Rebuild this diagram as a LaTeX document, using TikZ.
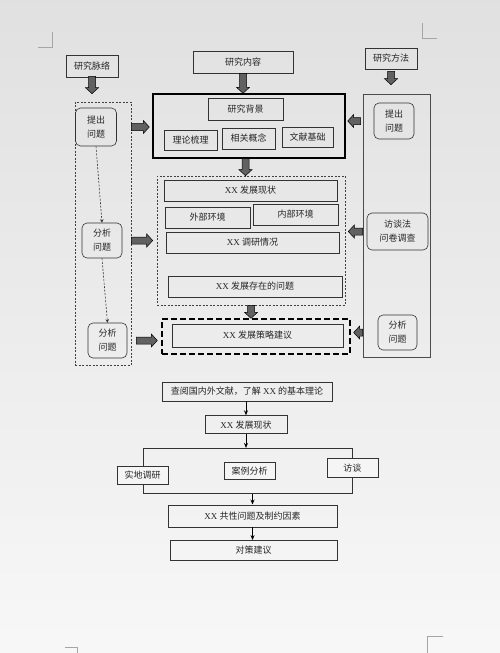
\documentclass[tikz,border=0pt]{standalone}
\usepackage{fontspec}
\setmainfont{Liberation Serif}
\newfontfamily\cjk{Noto Sans CJK SC}
\usetikzlibrary{positioning,calc,arrows.meta}
\newcommand\XXtag{{\rmfamily XX}}
\newcommand\bodyw{3.5pt}
\newcommand\headw{6.5pt}
\newcommand\headl{6pt}

\tikzset{
  wh/.style 2 args={minimum width=#1, minimum height=#2},
  plain/.style={draw=black!80, line width=0.6pt},
  qbox/.style={plain, rounded corners=5pt, align=center,
    font=\cjk\fontsize{9}{14}\selectfont},
  fbox/.style={plain, fill=black!4},
  dashbox/.style={draw=black!75, line width=0.6pt, dash pattern=on 2pt off 1.5pt},
  thickdash/.style={draw=black, line width=1.3pt, dash pattern=on 6pt off 3pt},
  pagecorner/.style={draw=black!35, line width=0.5pt},
  thinarrow/.style={draw=black, line width=0.7pt, -{Stealth[length=5pt, width=4pt]}},
  dasharrow/.style={draw=black!80, line width=0.6pt, dash pattern=on 2pt off 1.5pt,
    -{Stealth[length=3.5pt, width=3.5pt]}},
  fatdown/.style={draw=black, fill=black!62, line width=0.5pt,
    to path={let \p1=(\tikztostart), \p2=(\tikztotarget) in
      (\x1-\bodyw,\y1) -- (\x1+\bodyw,\y1) -- (\x1+\bodyw,\y2+\headl)
      -- (\x1+\headw,\y2+\headl) -- (\x1,\y2) -- (\x1-\headw,\y2+\headl)
      -- (\x1-\bodyw,\y2+\headl) -- cycle}},
  fatright/.style={draw=black, fill=black!62, line width=0.5pt,
    to path={let \p1=(\tikztostart), \p2=(\tikztotarget) in
      (\x1,\y1-\bodyw) -- (\x2-\headl,\y1-\bodyw) -- (\x2-\headl,\y1-\headw)
      -- (\x2,\y1) -- (\x2-\headl,\y1+\headw) -- (\x2-\headl,\y1+\bodyw)
      -- (\x1,\y1+\bodyw) -- cycle}},
  fatleft/.style={draw=black, fill=black!62, line width=0.5pt,
    to path={let \p1=(\tikztostart), \p2=(\tikztotarget) in
      (\x1,\y1-\bodyw) -- (\x2+\headl,\y1-\bodyw) -- (\x2+\headl,\y1-\headw)
      -- (\x2,\y1) -- (\x2+\headl,\y1+\headw) -- (\x2+\headl,\y1+\bodyw)
      -- (\x1,\y1+\bodyw) -- cycle}},
}

\begin{document}
\begin{tikzpicture}[x=1pt, y=-1pt,
  every node/.style={font=\cjk\fontsize{9}{11}\selectfont, text=black!85, inner sep=0pt}]

  % page and corner marks
  \fill[top color=black!12, bottom color=black!3] (0,0) rectangle (500,653);
  \useasboundingbox (0,0) rectangle (500,653);
  \draw[pagecorner] (38,47) -- (52,47) -- (52,32);
  \draw[pagecorner] (422,23) -- (422,38) -- (437,38);
  \draw[pagecorner] (65,647) -- (77,647) -- (77,653);
  \draw[pagecorner] (443,636) -- (427,636) -- (427,653);

  % headings
  \node[plain, wh={52pt}{22pt}] (mlab) at (92,66) {研究脉络};
  \node[plain, wh={100pt}{22pt}] (nlab) at (243,62) {研究内容};
  \node[plain, wh={52pt}{21pt}] (flab) at (391,58.5) {研究方法};

  % left column
  \node[dashbox, wh={56pt}{263pt}] (lcol) at (103,233.5) {};
  \node[qbox, wh={41pt}{38pt}] (lq1) at (96,127) {提出\\问题};
  \node[qbox, wh={40pt}{35pt}] (lq2) at (102,240.5) {分析\\问题};
  \node[qbox, wh={39pt}{35pt}] (lq3) at (107.5,340.5) {分析\\问题};

  % centre column
  \node[draw=black, line width=1.4pt, wh={192pt}{64pt}] (box1) at (249,126) {};
  \node[plain, wh={75pt}{22pt}] (bj) at (245.5,109) {研究背景};
  \node[plain, wh={53pt}{20pt}] (ll) at (190.5,140) {理论梳理};
  \node[plain, wh={53pt}{21pt}] (gn) at (248.5,138.5) {相关概念};
  \node[plain, wh={51pt}{20pt}] (wx) at (307.5,137) {文献基础};

  \node[dashbox, wh={188pt}{129pt}] (box2) at (251,240.5) {};
  \node[plain, wh={173pt}{21pt}] (xz1) at (250.5,190.5) {\XXtag\ 发展现状};
  \node[plain, wh={85pt}{21pt}] (wb) at (207.5,217.5) {外部环境};
  \node[plain, wh={85pt}{21pt}] (nb) at (295.5,214.5) {内部环境};
  \node[plain, wh={173pt}{21pt}] (dy) at (252.5,242.5) {\XXtag\ 调研情况};
  \node[plain, wh={174pt}{21pt}] (wt) at (255,286.5) {\XXtag\ 发展存在的问题};

  \node[thickdash, wh={188pt}{35pt}] (box3) at (256,336.5) {};
  \node[plain, wh={171pt}{23pt}] (jy) at (257.5,335.5) {\XXtag\ 发展策略建议};

  % right column
  \node[draw=black!70, line width=0.6pt, wh={67pt}{263pt}] (rcol) at (396.5,225.5) {};
  \node[qbox, wh={40pt}{36pt}] (rq1) at (394,121) {提出\\问题};
  \node[qbox, wh={61pt}{37pt}] (rq2) at (397.5,231.5) {访谈法\\问卷调查};
  \node[qbox, wh={39pt}{35pt}] (rq3) at (397.5,332.5) {分析\\问题};

  % block arrows
  \draw[fatdown] ([yshift=1pt]mlab.south) to ([yshift=8pt]lcol.north);
  \draw[fatdown] (nlab.south) to (box1.north);
  \draw[fatdown] ([yshift=-2pt]flab.south) to ([yshift=9pt]rcol.north);
  \draw[fatdown] (bj |- box1.south) to (bj |- box2.north);
  \draw[fatdown] (box2.south) to (box3.north);

  \draw[fatright] (lcol.east |- lq1) to ($(box1.west |- lq1)+(-3pt,0)$);
  \draw[fatright] (lcol.east |- lq2) to ($(box2.west |- lq2)+(-4pt,0)$);
  \draw[fatright] ($(lcol.east |- lq3)+(5pt,0)$) to ($(box3.west |- lq3)+(-4pt,0)$);

  \draw[fatleft] ($(rcol.west |- rq1)+(-2pt,0)$) to ($(box1.east |- rq1)+(2pt,0)$);
  \draw[fatleft] (rcol.west |- rq2) to ($(box2.east |- rq2)+(3pt,0)$);
  \draw[fatleft] (rcol.west |- rq3) to ($(box3.east |- rq3)+(3pt,0)$);

  % dashed links in the left column
  \draw[dasharrow] (lq1.south) -- (lq2.north);
  \draw[dasharrow] (lq2.south) -- (lq3.north);

  % lower flow chart
  \node[plain, wh={170pt}{19pt}] (lit) at (247,391.5) {查阅国内外文献，了解 \XXtag\ 的基本理论};
  \node[plain, wh={82pt}{18pt}, below=14pt of lit, xshift=-1pt] (xz) {\XXtag\ 发展现状};
  \node[plain, wh={209pt}{45pt}, below=14pt of xz, xshift=1.5pt] (frame) {};
  \node[fbox, wh={51pt}{18pt}] (sd) at ([yshift=-4.5pt]frame.west) {实地调研};
  \node[fbox, wh={51pt}{17pt}] (al) at ([xshift=2pt]frame.center) {案例分析};
  \node[fbox, wh={51pt}{19pt}] (ft) at ([yshift=3pt]frame.east) {访谈};
  \node[plain, wh={169pt}{22pt}, below=11pt of frame, xshift=5pt] (gx) {\XXtag\ 共性问题及制约因素};
  \node[plain, wh={167pt}{20pt}, below=13pt of gx, xshift=1pt] (dc) {对策建议};

  \draw[thinarrow] (xz.north |- lit.south) -- (xz.north);
  \draw[thinarrow] (xz.south) -- (xz.south |- frame.north);
  \draw[thinarrow] (gx.north |- frame.south) -- (gx.north);
  \draw[thinarrow] (gx.south) -- (gx.south |- dc.north);
\end{tikzpicture}
\end{document}
